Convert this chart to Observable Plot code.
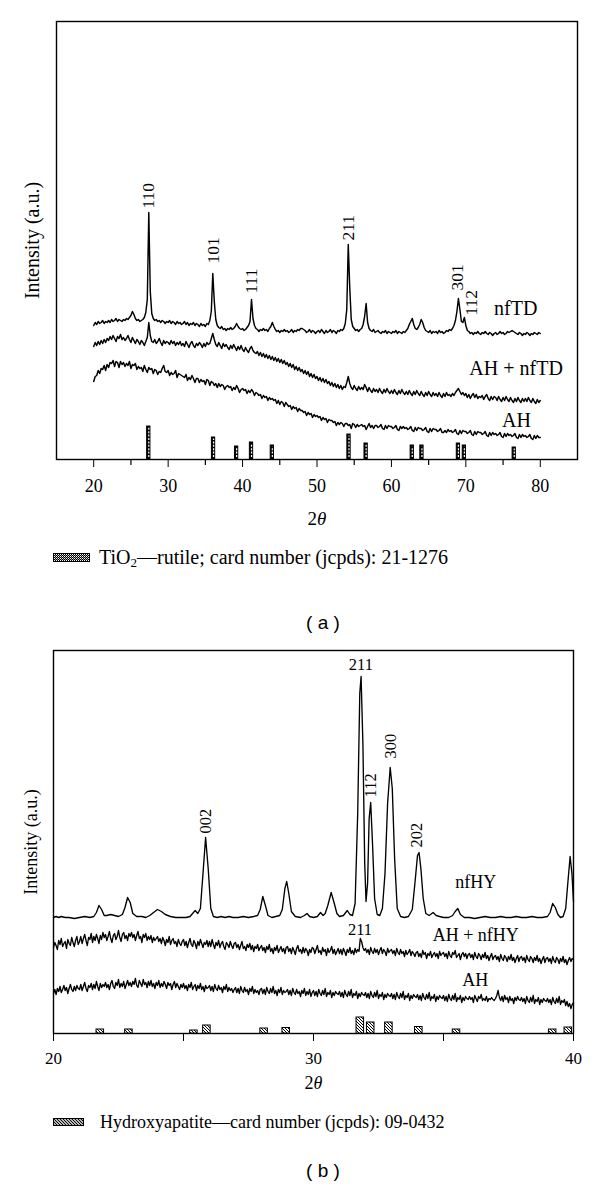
<!DOCTYPE html>
<html>
<head>
<meta charset="utf-8">
<script src="https://cdn.jsdelivr.net/npm/d3@7"></script>
<script src="https://cdn.jsdelivr.net/npm/@observablehq/plot@0.6"></script>
<style>
  html, body { margin: 0; padding: 0; background: #fff; }
  body { position: relative; width: 600px; height: 1186px; overflow: hidden; font-family: "Liberation Serif", "DejaVu Serif", serif; color: #000; }
  .abs { position: absolute; }
  .legend { display: flex; align-items: center; height: 24px; white-space: nowrap; line-height: 24px; z-index: 2; }
  .legend sub { font-size: 13px; line-height: 0; vertical-align: -3px; }
  .cap { width: 100px; text-align: center; font-family: "Liberation Sans", Arial, sans-serif; font-size: 19px; height: 24px; line-height: 24px; z-index: 2; }
</style>
</head>
<body>
<div id="pa" class="abs" style="left:0;top:0;z-index:1"></div>
<div id="pb" class="abs" style="left:0;top:629px;z-index:1"></div>
<div class="abs legend" style="left:53px;top:545px;font-size:20px">
  <svg width="37" height="9" style="margin-right:9px;display:block">
    <defs>
      <pattern id="chkLeg" width="2" height="2" patternUnits="userSpaceOnUse">
        <rect width="2" height="2" fill="#000"/><rect x="1" y="1" width="1" height="1" fill="#fff"/><rect x="0" y="0" width="1" height="1" fill="#999"/>
      </pattern>
    </defs>
    <rect x="0.5" y="0.5" width="36" height="8" fill="url(#chkLeg)" stroke="#000" stroke-width="1"/>
  </svg>
  <span>TiO<sub>2</sub>—rutile; card number (jcpds): 21-1276</span>
</div>
<div class="abs cap" style="left:273px;top:611px">( a )</div>
<div class="abs legend" style="left:53px;top:1110px;font-size:18px">
  <svg width="31" height="8" style="margin-right:16px;display:block">
    <defs>
      <pattern id="hatchLeg" width="3" height="3" patternUnits="userSpaceOnUse">
        <rect width="3" height="3" fill="#fff"/>
        <path d="M-1,-1L4,4M-1,2L1,4M2,-1L4,1" stroke="#000" stroke-width="1.1"/>
      </pattern>
    </defs>
    <rect x="0.5" y="0.5" width="30" height="7" fill="url(#hatchLeg)" stroke="#000" stroke-width="1"/>
  </svg>
  <span>Hydroxyapatite—card number (jcpds): 09-0432</span>
</div>
<div class="abs cap" style="left:273px;top:1159px">( b )</div>

<script>
// ---------------- Panel (a) data: 2θ from 20 to 80, step 0.2 ----------------
const stepA = 0.2;
const nfTD = [
134,137,135,138,136,137,139,136,138,137,
139,137,140,138,139,141,138,140,139,138,
140,139,141,140,142,144,148,145,141,139,
140,138,139,140,142,147,160,247,168,146,
141,139,140,138,139,137,139,138,136,138,
137,139,136,138,137,135,138,136,137,135,
136,138,135,137,134,136,135,137,134,136,
135,133,136,134,135,133,136,135,139,148,
186,158,140,134,132,131,133,130,131,129,
131,130,132,130,131,133,136,133,131,130,
131,129,130,132,134,138,160,141,134,131,
130,128,130,129,131,129,130,128,131,133,
137,133,130,128,129,127,129,128,130,128,
129,127,128,130,127,129,128,130,129,131,
131,130,129,127,128,130,127,129,128,126,
128,129,127,130,128,126,129,127,128,130,
127,129,128,126,129,128,130,129,131,136,
150,215,172,140,133,131,129,130,128,130,
131,135,143,156,137,131,129,128,130,127,
128,129,127,126,128,127,129,126,128,127,
126,128,127,129,126,128,127,126,128,127,
129,131,135,138,141,135,131,130,132,135,
140,137,132,129,128,127,129,126,128,127,
128,126,129,127,128,126,127,129,128,130,
129,131,134,139,148,161,150,138,137,142,
134,129,128,126,127,125,127,126,128,126,
125,127,126,128,126,125,127,126,124,126,
127,125,126,128,126,127,125,126,128,127,
128,129,128,127,126,125,127,126,124,126,
125,127,126,124,126,125,127,126,125,127,
126];
const ahTD = [
113,117,114,118,115,119,116,120,117,121,
119,123,120,124,121,118,123,121,125,120,
122,119,121,124,120,117,122,119,116,120,
118,115,119,117,114,118,122,137,124,118,
117,120,116,118,121,117,114,119,116,118,
117,115,119,116,118,114,117,115,118,114,
116,113,118,115,112,116,118,114,112,116,
114,117,115,112,116,113,117,115,116,121,
126,120,115,113,117,114,111,116,113,115,
112,110,114,111,115,112,109,113,110,114,
110,108,112,109,107,111,113,109,107,106,
108,104,107,103,106,102,105,101,104,100,
103,99,102,98,101,97,100,96,99,95,
97,93,96,92,95,90,93,89,92,88,
90,86,89,85,88,83,86,82,85,81,
83,79,82,78,81,77,80,76,78,74,
77,73,76,72,75,71,74,70,73,72,
77,83,76,72,70,74,71,69,73,70,
72,70,75,72,68,72,69,67,71,68,
70,67,71,68,66,70,67,71,68,66,
69,66,70,67,65,69,66,70,67,65,
68,65,69,66,64,68,65,69,66,64,
68,65,63,67,64,68,65,63,67,64,
66,63,67,64,62,66,63,67,64,65,
63,66,64,67,69,71,68,65,67,64,
66,62,65,61,64,66,62,65,61,63,
62,64,60,63,65,61,59,63,60,63,
62,59,63,60,58,62,59,63,60,58,
62,59,57,61,58,62,59,57,61,58,
61,58,62,59,57,61,58,56,60,57,
59];
const ahA = [
78,83,84,89,86,91,90,94,89,95,
92,97,96,99,93,98,97,92,98,95,
97,93,96,94,98,91,95,94,96,90,
93,91,92,88,94,90,87,92,90,91,
86,90,89,85,88,87,91,94,88,87,
89,84,87,85,86,89,82,86,85,84,
83,82,85,79,82,80,84,81,77,81,
81,77,80,78,79,75,80,79,74,78,
77,74,76,72,76,73,75,74,70,73,
74,72,73,69,72,70,74,71,67,70,
71,69,70,66,69,67,70,68,64,67,
66,64,65,61,64,62,63,59,62,60,
61,59,60,56,59,55,58,57,53,57,
55,53,54,50,53,51,52,48,51,49,
49,47,48,44,47,45,46,42,45,43,
44,42,43,39,42,40,41,37,40,39,
39,37,38,34,37,35,37,36,33,36,
36,34,35,31,36,35,32,35,33,34,
35,33,34,30,33,36,32,34,31,34,
34,32,33,35,31,30,34,31,34,33,
33,31,32,34,30,29,33,31,33,31,
32,30,31,33,29,28,32,29,32,31,
31,29,30,32,28,27,31,28,31,30,
30,28,29,31,27,27,29,27,30,28,
29,27,28,30,26,25,29,26,29,28,
28,26,27,29,25,24,28,25,28,27,
27,25,26,28,24,23,27,24,27,25,
26,24,25,27,23,22,26,23,26,24,
25,23,24,26,22,21,25,22,25,23,
24,22,23,25,21,20,24,21,24,22,
22];
const rutilePos = [27.4, 36.1, 39.2, 41.2, 44.0, 54.3, 56.6, 62.8, 64.1, 69.0, 69.8, 76.5];
const rutileH   = [33, 22, 13, 17, 14, 25, 16, 14, 14, 16, 14, 12];
const ticksA = [20, 30, 40, 50, 60, 70, 80];
const minorA = [25, 35, 45, 55, 65, 75];
const peakTextA = ["110", "101", "111", "211", "301", "112"];
const peakXA    = [27.3, 36.05, 41.15, 54.2, 68.85, 70.7];
const peakYA    = [251, 196, 166, 219, 169, 144];
const serTextA  = ["nfTD", "AH + nfTD", "AH"];
const serXA     = [76.7, 76.75, 76.8];
const serYA     = [151, 91, 39];

// ---------------- Panel (b) data ----------------
const hyX = [20.0,20.1,20.2,20.3,20.45,20.6,20.8,21.0,21.2,21.4,
21.55,21.65,21.75,21.85,21.95,22.05,22.2,22.35,22.5,22.65,
22.75,22.85,22.95,23.05,23.2,23.4,23.55,23.7,23.85,24.0,
24.15,24.3,24.5,24.7,24.9,25.1,25.25,25.35,25.45,25.55,
25.65,25.75,25.85,25.95,26.05,26.15,26.3,26.45,26.6,26.75,
26.9,27.1,27.3,27.5,27.7,27.85,27.95,28.05,28.15,28.25,
28.4,28.55,28.7,28.8,28.9,28.97,29.05,29.15,29.3,29.5,
29.65,29.75,29.85,30.0,30.15,30.27,30.37,30.45,30.55,30.68,
30.8,30.9,31.0,31.15,31.3,31.4,31.5,31.6,31.7,31.78,
31.83,31.9,31.97,32.02,32.08,32.14,32.2,32.27,32.35,32.45,
32.55,32.65,32.75,32.85,32.95,33.03,33.12,33.22,33.35,33.5,
33.65,33.8,33.9,34.0,34.06,34.13,34.22,34.32,34.45,34.6,
34.72,34.85,35.0,35.2,35.35,35.45,35.55,35.65,35.8,36.0,
36.2,36.4,36.6,36.8,37.0,37.2,37.4,37.6,37.8,38.0,
38.2,38.4,38.6,38.8,39.0,39.1,39.2,39.3,39.4,39.5,
39.6,39.7,39.78,39.87,39.94,40.0];
const hyY = [116,117,116,117,116,116,115,116,117,116,
117,121,128,124,118,118,119,118,117,119,
126,136,131,120,117,117,116,118,121,124,
122,119,117,116,116,116,117,120,123,120,
125,160,196,165,125,117,116,117,116,117,
116,116,117,116,117,118,124,137,128,118,
116,117,118,124,145,152,140,122,117,116,
118,120,117,116,117,121,118,120,128,141,
130,120,117,118,123,119,118,130,220,340,
357,290,170,132,150,215,231,190,135,119,
118,125,160,230,266,245,175,125,117,116,
117,124,150,178,181,165,135,120,118,121,
118,117,116,116,118,122,125,119,116,116,
115,116,117,116,116,117,116,116,117,116,
116,117,116,116,117,121,130,126,119,116,
117,125,150,177,160,132];
// step 0.05 from 20 to 40
const stepB = 0.05;
const ahHY = [
86,91,88,84,93,89,95,87,90,92,85,94,90,88,96,91,87,93,97,89,
92,97,90,95,99,93,88,96,94,100,91,97,93,99,95,90,98,94,101,96,
99,93,97,102,95,91,98,100,94,97,103,96,92,99,101,95,98,93,100,97,
101,96,99,93,98,102,95,97,91,99,96,100,93,97,94,98,91,96,93,95,
97,92,95,90,96,93,88,94,91,97,89,93,95,90,92,87,94,90,88,92,
94,88,92,86,91,95,89,87,93,90,85,92,88,94,90,86,91,89,93,87,
92,87,94,89,85,91,88,93,86,90,92,87,84,91,89,86,92,88,85,90,
91,86,89,84,88,92,85,87,83,89,86,90,84,88,82,87,85,89,83,86,
88,83,86,81,87,84,89,82,85,80,86,83,88,81,84,87,82,85,80,86,
87,82,85,80,86,83,79,85,88,82,84,80,86,81,85,83,78,84,81,86,
85,80,84,88,81,83,79,86,82,84,78,85,81,83,87,80,84,79,82,85,
80,84,79,85,82,78,84,81,86,80,83,79,85,81,84,82,95,92,86,83,
85,81,84,79,86,82,80,85,81,84,79,83,86,80,84,82,78,85,81,83,
84,80,83,78,85,81,79,84,80,82,77,83,79,81,84,78,82,80,77,81,
82,77,80,76,83,79,81,75,80,78,82,76,79,81,77,80,75,82,78,80,
81,77,80,75,82,78,76,81,79,83,76,78,80,74,79,81,77,80,75,79,
80,76,79,74,81,77,75,80,78,74,79,76,81,75,78,73,77,80,74,77,
78,74,77,72,79,75,73,78,76,72,77,74,79,73,76,71,75,78,72,76,
77,73,76,71,78,74,72,77,75,71,76,73,78,72,75,70,74,77,71,75,
76,72,75,70,77,73,71,76,74,70,75,72,77,71,74,69,73,76,72,75,
74];
const ahB = [
40,44,39,45,42,47,41,44,48,43,46,40,45,49,44,42,47,43,48,45,
44,49,43,47,51,45,42,48,46,50,44,49,45,52,47,43,50,46,49,47,
51,46,49,44,50,53,47,45,51,48,54,46,50,47,52,45,49,53,48,51,
47,52,49,55,48,46,53,50,47,54,49,51,46,52,48,53,47,50,45,51,
48,53,46,50,47,52,49,45,51,48,50,44,49,52,46,50,47,44,49,46,
50,45,48,43,49,46,51,44,47,49,43,48,45,50,44,47,42,48,45,46,
48,43,47,42,49,45,43,48,44,46,41,47,44,49,42,46,43,45,41,44,
46,41,45,40,47,43,41,46,42,44,39,45,42,47,40,44,41,43,39,44,
45,40,44,39,46,42,40,45,41,47,40,43,38,44,41,46,39,43,41,42,
44,39,43,38,45,41,39,44,40,42,37,43,40,45,38,42,39,44,37,41,
43,38,42,37,44,40,38,43,39,45,37,41,39,43,36,41,38,42,40,39,
42,37,41,36,43,39,37,42,38,44,36,40,38,42,35,40,37,41,39,38,
41,36,40,35,42,38,36,41,37,43,35,39,37,41,34,39,36,40,38,37,
40,35,39,34,41,37,35,40,36,42,34,38,36,40,33,38,35,39,37,36,
39,34,38,33,40,36,34,39,35,41,33,37,35,39,32,37,34,38,36,35,
38,33,37,32,39,35,33,38,34,40,32,36,34,38,31,36,33,37,35,34,
37,34,36,31,38,35,32,37,35,39,33,35,33,37,32,35,34,36,34,33,
35,38,43,36,33,37,32,38,34,36,31,37,33,35,30,36,33,37,34,33,
36,32,35,30,37,33,31,36,32,38,30,34,32,36,29,34,31,35,33,32,
35,31,34,29,36,32,30,35,31,37,29,33,31,34,28,32,27,30,25,29,
31];
const hapPos = [21.8, 22.9, 25.4, 25.9, 28.1, 28.95, 31.8, 32.2, 32.9, 34.05, 35.5, 39.2, 39.8];
const hapH   = [4, 4, 3, 8, 5, 5.5, 16, 11, 11, 6.5, 4, 4, 6];
const ticksB = [20, 25, 30, 35, 40];
const peakTextB = ["002", "112", "300", "202"];
const peakXB    = [25.86, 32.2, 32.97, 33.96];
const peakYB    = [200, 236, 275, 186];
const hTextB    = ["211", "211"];
const hXB       = [31.82, 31.79];
const hYB       = [369, 104];
const serTextB  = ["nfHY", "AH + nfHY", "AH"];
const serXB     = [36.24, 36.24, 36.22];
const serYB     = [151, 98, 53];

// ---------------- helpers ----------------
const NS = "http://www.w3.org/2000/svg";
function gridSeries(arr, x0, step, name) {
  return arr.map((y, i) => ({x: +(x0 + step * i).toFixed(3), y, s: name}));
}
function fixTheta(svg) {
  svg.querySelectorAll("text").forEach(t => {
    if (t.textContent === "2θ") {
      t.textContent = "2";
      const ts = document.createElementNS(NS, "tspan");
      ts.setAttribute("font-style", "italic");
      ts.textContent = "θ";
      t.appendChild(ts);
    }
  });
}
function addDefs(svg, html) {
  const d = document.createElementNS(NS, "defs");
  d.innerHTML = html;
  svg.insertBefore(d, svg.firstChild);
}
const serif = "'Liberation Serif', 'DejaVu Serif', serif";

// ---------------- Panel (a) ----------------
const seriesA = [
  ...gridSeries(nfTD, 20, stepA, "nfTD"),
  ...gridSeries(ahTD, 20, stepA, "AH + nfTD"),
  ...gridSeries(ahA, 20, stepA, "AH")
];
const rutile = rutilePos.map((x, i) => ({x, h: rutileH[i]}));
const peakLabA = peakTextA.map((t, i) => ({t, x: peakXA[i], y: peakYA[i]}));
const serLabA = serTextA.map((t, i) => ({t, x: serXA[i], y: serYA[i]}));

const plotA = Plot.plot({
  width: 600, height: 530,
  marginTop: 21, marginBottom: 71, marginLeft: 56, marginRight: 23,
  style: {fontFamily: serif, fontSize: "18px", color: "#000", background: "transparent", overflow: "visible"},
  x: {domain: [15, 85], ticks: ticksA, tickSize: 8, tickPadding: 12, tickFormat: d => String(d), label: null},
  y: {domain: [0, 438], axis: null},
  marks: [
    Plot.frame({stroke: "#000", strokeWidth: 1.4}),
    Plot.ruleX(minorA, {y1: 0, y2: -6, stroke: "#000", strokeWidth: 1.2}),
    Plot.line(seriesA, {x: "x", y: "y", z: "s", stroke: "#000", strokeWidth: 1.45}),
    Plot.rect(rutile, {x1: d => d.x - 0.22, x2: d => d.x + 0.22, y1: 0, y2: "h", fill: "#000", stroke: "#000", strokeWidth: 1}),
    Plot.ruleX(rutile, {x: "x", y1: 2, y2: d => d.h - 1.5, stroke: "#fff", strokeWidth: 1.2, strokeDasharray: "2,1.4"}),
    Plot.text(peakLabA, {x: "x", y: "y", text: "t", rotate: -90, textAnchor: "start", fontSize: 17.5, fill: "#000"}),
    Plot.text(serLabA, {x: "x", y: "y", text: "t", fontSize: 20, fill: "#000"}),
    Plot.text(["2θ"], {frameAnchor: "bottom", dy: 59, textAnchor: "middle", lineAnchor: "middle", fontSize: 19, fill: "#000"}),
    Plot.text(["Intensity (a.u.)"], {frameAnchor: "left", rotate: -90, dx: -23.5, textAnchor: "middle", lineAnchor: "middle", fontSize: 20, fill: "#000"})
  ]
});
fixTheta(plotA);
document.getElementById("pa").appendChild(plotA);

// ---------------- Panel (b) ----------------
const seriesB = [
  ...hyX.map((x, i) => ({x, y: hyY[i], s: "nfHY"})),
  ...gridSeries(ahHY, 20, stepB, "AH + nfHY"),
  ...gridSeries(ahB, 20, stepB, "AH")
];
const hap = hapPos.map((x, i) => ({x, h: hapH[i]}));
const peakLabB = peakTextB.map((t, i) => ({t, x: peakXB[i], y: peakYB[i]}));
const hLabB = hTextB.map((t, i) => ({t, x: hXB[i], y: hYB[i]}));
const serLabB = serTextB.map((t, i) => ({t, x: serXB[i], y: serYB[i]}));

const plotB = Plot.plot({
  width: 600, height: 470,
  marginTop: 21, marginBottom: 66, marginLeft: 53, marginRight: 27,
  style: {fontFamily: serif, fontSize: "17px", color: "#000", background: "transparent", overflow: "visible"},
  x: {domain: [20, 40], ticks: ticksB, tickSize: 8, tickPadding: 10, tickFormat: d => (d % 10 === 0 ? String(d) : ""), label: null},
  y: {domain: [0, 383], axis: null},
  marks: [
    Plot.frame({stroke: "#000", strokeWidth: 1.4}),
    Plot.line(seriesB, {x: "x", y: "y", z: "s", stroke: "#000", strokeWidth: 1.35}),
    Plot.rect(hap, {x1: d => d.x - 0.145, x2: d => d.x + 0.145, y1: 0, y2: "h", fill: "#0a0b0c", stroke: "#000", strokeWidth: 1}),
    Plot.text(peakLabB, {x: "x", y: "y", text: "t", rotate: -90, textAnchor: "start", fontSize: 16.5, fill: "#000"}),
    Plot.text(hLabB, {x: "x", y: "y", text: "t", fontSize: 16.5, fill: "#000"}),
    Plot.text(serLabB, {x: "x", y: "y", text: "t", fontSize: 18, fill: "#000"}),
    Plot.text(["2θ"], {frameAnchor: "bottom", dy: 50, textAnchor: "middle", lineAnchor: "middle", fontSize: 18, fill: "#000"}),
    Plot.text(["Intensity (a.u.)"], {frameAnchor: "left", rotate: -90, dx: -22.3, textAnchor: "middle", lineAnchor: "middle", fontSize: 18, fill: "#000"})
  ]
});
addDefs(plotB, '<pattern id="hatchB" width="3" height="3" patternUnits="userSpaceOnUse"><rect width="3" height="3" fill="#fff"/><path d="M-1,-1L4,4M-1,2L1,4M2,-1L4,1" stroke="#000" stroke-width="1"/></pattern>');
plotB.querySelectorAll('[fill="#0a0b0c"]').forEach(el => el.setAttribute("fill", "url(#hatchB)"));
fixTheta(plotB);
document.getElementById("pb").appendChild(plotB);
</script>
</body>
</html>
